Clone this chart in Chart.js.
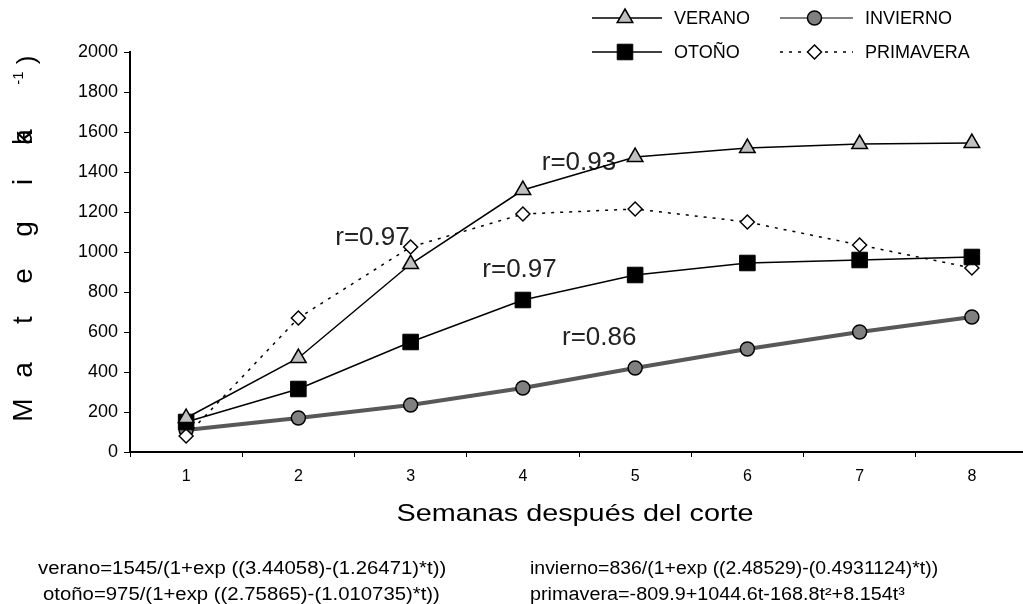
<!DOCTYPE html>
<html>
<head>
<meta charset="utf-8">
<script src="https://cdn.jsdelivr.net/npm/chart.js@4.4.1/dist/chart.umd.min.js"></script>
<style>
  html, body { margin: 0; padding: 0; background: #fff; overflow: hidden; width: 1023px; height: 604px; }
  #wrap { position: absolute; left: 0; top: 0; width: 1040px; height: 604px; }
  .f { position: absolute; font-family: "Liberation Sans", Arial, sans-serif; font-size: 18px; color: #000;
       white-space: nowrap; transform-origin: 0 50%; transform: scaleX(1.13); line-height: 20px; }
</style>
</head>
<body>
<div id="wrap"><canvas id="chart" width="1040" height="604"></canvas></div>
<div class="f" style="left:38px; top:558px">verano=1545/(1+exp ((3.44058)-(1.26471)*t))</div>
<div class="f" style="left:43px; top:584px">otoño=975/(1+exp ((2.75865)-(1.010735)*t))</div>
<div class="f" style="left:530px; top:558px; transform: scaleX(1.08)">invierno=836/(1+exp ((2.48529)-(0.4931124)*t))</div>
<div class="f" style="left:530px; top:584px; transform: scaleX(1.10)">primavera=-809.9+1044.6t-168.8t²+8.154t³</div>
<script>
// semanas despues del corte
const semanas = ['1', '2', '3', '4', '5', '6', '7', '8'];
const verano = [170, 470, 940, 1310, 1475, 1520, 1540, 1545];
const otono = [150, 315, 550, 760, 885, 945, 960, 975];
const primavera = [80, 670, 1025, 1190, 1215, 1150, 1035, 920];
const invierno = [110, 170, 235, 320, 420, 515, 600, 675];
const yTicks = [0, 200, 400, 600, 800, 1000, 1200, 1400, 1600, 1800, 2000];

// coeficientes r (posicion en unidades de datos: indice de semana, valor)
const rTexts = ['r=0.93', 'r=0.97', 'r=0.97', 'r=0.86'];
const rX = [3.5, 1.66, 2.97, 3.68];
const rY = [1445, 1070, 910, 570];

const FONT = '"Liberation Sans", Arial, sans-serif';

const extras = {
    id: 'extras',
    beforeDatasetsDraw(chart) {
        const { ctx, scales: { x, y } } = chart;
        ctx.save();
        ctx.font = '26px ' + FONT;
        ctx.fillStyle = '#222';
        ctx.textAlign = 'center';
        ctx.textBaseline = 'middle';
        rTexts.forEach((t, i) => ctx.fillText(t, x.getPixelForValue(rX[i]), y.getPixelForValue(rY[i])));
        ctx.restore();
    },
    afterDraw(chart) {
        const ctx = chart.ctx;
        ctx.save();
        ctx.fillStyle = '#000';

        // titulo eje x
        ctx.save();
        ctx.translate(575, 514);
        ctx.scale(1.2, 1);
        ctx.font = '24px ' + FONT;
        ctx.textAlign = 'center';
        ctx.textBaseline = 'middle';
        ctx.fillText('Semanas después del corte', 0, 0);
        ctx.restore();

        // titulo eje y (letras espaciadas, como en el original)
        const letters = [['M', 410], ['a', 370], ['t', 320], ['e', 276], ['g', 229], ['i', 182], ['a', 137], ['k', 138]];
        ctx.save();
        ctx.font = '28px ' + FONT;
        ctx.textAlign = 'center';
        ctx.textBaseline = 'middle';
        letters.forEach(([ch, py]) => {
            ctx.save();
            ctx.translate(24, py);
            ctx.rotate(-Math.PI / 2);
            ctx.fillText(ch, 0, 0);
            ctx.restore();
        });
        ctx.save();
        ctx.translate(19, 78);
        ctx.rotate(-Math.PI / 2);
        ctx.font = '15px ' + FONT;
        ctx.fillText('-1', 0, 0);
        ctx.restore();
        ctx.save();
        ctx.translate(28, 60);
        ctx.rotate(-Math.PI / 2);
        ctx.font = '26px ' + FONT;
        ctx.fillText(')', 0, 0);
        ctx.restore();
        ctx.restore();

        // leyenda 2x2
        const items = [
            { ds: 0, x1: 592, x2: 662, y: 18 },
            { ds: 3, x1: 780, x2: 853, y: 18 },
            { ds: 1, x1: 592, x2: 662, y: 52 },
            { ds: 2, x1: 780, x2: 853, y: 52 }
        ];
        items.forEach(it => {
            const d = chart.data.datasets[it.ds];
            ctx.save();
            ctx.strokeStyle = d.borderColor;
            ctx.lineWidth = it.ds === 3 ? 1.5 : d.borderWidth;
            ctx.setLineDash(d.borderDash || []);
            ctx.beginPath();
            ctx.moveTo(it.x1, it.y);
            ctx.lineTo(it.x2, it.y);
            ctx.stroke();
            ctx.setLineDash([]);
            ctx.fillStyle = d.pointBackgroundColor;
            ctx.strokeStyle = d.pointBorderColor;
            ctx.lineWidth = d.pointBorderWidth;
            Chart.helpers.drawPoint(ctx, {
                pointStyle: d.pointStyle, radius: d.pointRadius, rotation: 0, borderWidth: d.pointBorderWidth
            }, (it.x1 + it.x2) / 2 - 2, it.y);
            ctx.fillStyle = '#000';
            ctx.font = '18px ' + FONT;
            ctx.textAlign = 'left';
            ctx.textBaseline = 'middle';
            ctx.fillText(d.label, it.x2 + 12, it.y + 1);
            ctx.restore();
        });
        ctx.restore();
    }
};

new Chart(document.getElementById('chart').getContext('2d'), {
    type: 'line',
    data: {
        labels: semanas,
        datasets: [{
            label: 'VERANO',
            data: verano,
            borderColor: '#000',
            borderWidth: 1.5,
            pointStyle: 'triangle',
            pointRadius: 9,
            pointBackgroundColor: '#c0c0c0',
            pointBorderColor: '#000',
            pointBorderWidth: 1.5
        }, {
            label: 'OTOÑO',
            data: otono,
            borderColor: '#000',
            borderWidth: 1.5,
            pointStyle: 'rect',
            pointRadius: 11,
            pointBackgroundColor: '#000',
            pointBorderColor: '#000',
            pointBorderWidth: 1
        }, {
            label: 'PRIMAVERA',
            data: primavera,
            borderColor: '#000',
            borderWidth: 1.5,
            borderDash: [3, 6],
            pointStyle: 'rectRot',
            pointRadius: 7,
            pointBackgroundColor: '#fff',
            pointBorderColor: '#000',
            pointBorderWidth: 1.5
        }, {
            label: 'INVIERNO',
            data: invierno,
            borderColor: '#585858',
            borderWidth: 4,
            pointStyle: 'circle',
            pointRadius: 7,
            pointBackgroundColor: '#808080',
            pointBorderColor: '#000',
            pointBorderWidth: 1.5
        }]
    },
    options: {
        responsive: false,
        animation: false,
        layout: { padding: { top: 52, right: 6, left: 0, bottom: 0 } },
        plugins: { legend: { display: false }, tooltip: { enabled: false } },
        elements: { line: { tension: 0 } },
        scales: {
            x: {
                offset: true,
                grid: { offset: true, drawOnChartArea: false, tickLength: 5, color: '#000' },
                border: { color: '#000', width: 2 },
                ticks: { color: '#000', font: { size: 16, family: FONT }, padding: 10 },
                afterFit(scale) { scale.height = 152; }
            },
            y: {
                min: 0,
                max: 2000,
                afterBuildTicks(scale) { scale.ticks = yTicks.map(v => ({ value: v })); },
                grid: { drawOnChartArea: false, tickLength: 6, color: '#000' },
                border: { color: '#000', width: 2 },
                ticks: {
                    color: '#000',
                    font: { size: 18, family: FONT },
                    padding: 6,
                    callback: v => String(v)
                },
                afterFit(scale) { scale.width = 130; }
            }
        }
    },
    plugins: [extras]
});
</script>
</body>
</html>
